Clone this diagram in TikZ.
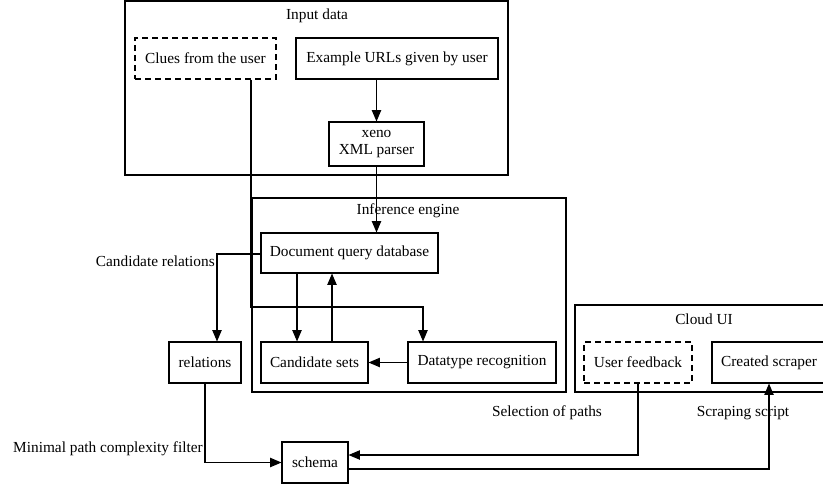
\documentclass[tikz,border=0pt]{standalone}
\usepackage{fontspec}
\setmainfont{Liberation Serif}
\usetikzlibrary{arrows.meta,calc}
\tikzset{
  box/.style={draw, line width=0.8pt, rectangle, inner sep=0pt, align=center},
  dbox/.style={box, dashed, dash pattern=on 4.5pt off 3pt},
  arr/.style={draw, line width=0.8pt, -{Triangle[length=8.5pt,width=7pt]}},
  ln/.style={draw, line width=0.8pt},
  lbl/.style={inner sep=0pt, align=center},
}
\begin{document}
\begin{tikzpicture}[x=0.75pt,y=-0.75pt, font=\fontsize{11.5}{13}\selectfont]
\useasboundingbox (0,0) rectangle (823,486);
\clip (0,0) rectangle (823,486);
% clusters
\node[box, minimum width=287.25pt, minimum height=130.5pt] (inbox) at (316.5,88) {};
\node[lbl] (intitle) at (317,16) {Input data};
\node[box, minimum width=235.5pt, minimum height=145.5pt] (infbox) at (409,295) {};
\node[lbl] (inftitle) at (408,211) {Inference engine};
\node[box, minimum width=193.5pt, minimum height=65.25pt] (cloud) at (704,348.5) {};
\node[lbl] (cloudtitle) at (704,319) {Cloud UI};
% nodes
\node[dbox, minimum width=105.75pt, minimum height=30.75pt] (clues) at (205.5,58.5) {Clues from the user};
\node[box, minimum width=151.5pt, minimum height=30.75pt] (urls) at (397,58.5) {Example URLs given by user};
\node[box, minimum width=71.25pt, minimum height=33pt] (xeno) at (376.5,144) {xeno\\XML parser};
\node[box, minimum width=132.75pt, minimum height=30pt] (dqd) at (349.5,253) {Document query database};
\node[box, minimum width=54pt, minimum height=30.75pt] (rel) at (205,362.5) {relations};
\node[box, minimum width=80.25pt, minimum height=30.75pt] (cands) at (314.5,362.5) {Candidate sets};
\node[box, minimum width=111pt, minimum height=30.75pt] (dtype) at (482,362.5) {Datatype recognition};
\node[dbox, minimum width=81pt, minimum height=30.75pt] (uf) at (638,362.5) {User feedback};
\node[box, minimum width=85.5pt, minimum height=30.75pt] (scraper) at (769,362.5) {Created scraper};
\node[box, minimum width=49.5pt, minimum height=30.75pt] (schema) at (315,462.5) {schema};
% helper coordinates
\coordinate (c1) at (251,307);
\coordinate (c2) at (423,307);
\coordinate (c3) at (217,254);
\coordinate (c4) at (297,0);
\coordinate (c5) at (332,0);
\coordinate (c7) at (638,455);
\coordinate (c8) at (769,469);
% edges
\draw[arr] (urls.south -| xeno.north) -- (xeno.north);
\draw[arr] (xeno.south) -- (xeno.south |- dqd.north);
\draw[arr] (clues.south -| c1) -- (c1) -- (c2) -- (c2 |- dtype.north);
\draw[arr] (dqd.west |- c3) -- (c3) -- (c3 |- rel.north);
\node[lbl, anchor=east] (lcr) at (215,261) {Candidate relations};
\draw[arr] (dqd.south -| c4) -- (cands.north -| c4);
\draw[arr] (cands.north -| c5) -- (dqd.south -| c5);
\draw[arr] (dtype.west) -- (cands.east);
\draw[arr] (rel.south) |- (schema.west);
\node[lbl, anchor=east] (lmp) at (203,449) {Minimal path complexity filter};
\draw[arr] (uf.south) -- (c7) -- (schema.east |- c7);
\node[lbl] (lsp) at (547,413) {Selection of paths};
\draw[arr] (schema.east |- c8) -- (c8) -- (scraper.south);
\node[lbl] (lss) at (743,413) {Scraping script};
\end{tikzpicture}
\end{document}
